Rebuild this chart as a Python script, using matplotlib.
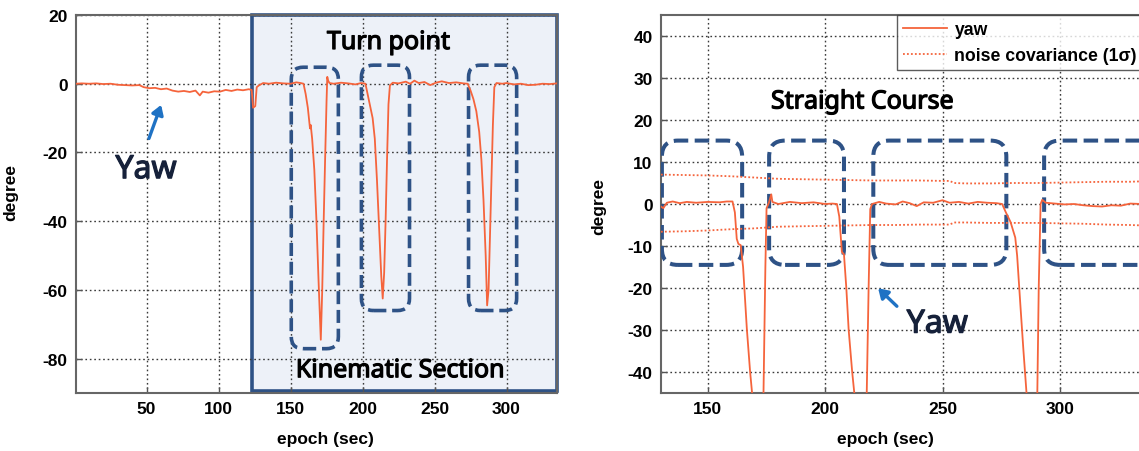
import matplotlib
matplotlib.use("Agg")
import matplotlib.pyplot as plt
import matplotlib.patheffects as pe
from matplotlib.patches import Rectangle, FancyBboxPatch
from matplotlib.font_manager import FontProperties

plt.rcParams['axes.unicode_minus'] = False

# ---- data ----
# left panel: yaw over the whole run
yaw_x = [1, 5, 10, 15, 20, 25, 30, 35, 40, 45, 48, 52, 56, 60, 64, 68, 72, 76, 80, 84,
         87, 89, 93, 97, 101, 105, 109, 113, 117, 121, 123,
         124, 125.5, 126.5, 128, 131, 135, 140, 145, 150, 154, 157, 159,
         160.5, 162, 163, 163.5, 164, 165, 166.5, 168, 169.5, 171, 172, 173, 174, 175,
         175.5, 176, 177, 180, 185, 190, 195, 199, 202,
         203.5, 205, 207, 208.5, 210, 211.5, 213, 214, 215, 216, 217, 218, 219,
         221, 225, 230, 233, 236, 239, 243, 247, 251, 255, 260, 265, 270, 273,
         275, 277, 279, 281, 282.5, 284, 285.5, 286.5, 287.5, 288.5, 289.5, 290.5, 291.5,
         293, 297, 300, 305, 310, 315, 320, 325, 330, 335]
yaw_y = [0.0, 0.1, 0.0, 0.1, -0.1, 0.0, -0.3, -0.4, -0.5, -0.4, -1.0, -1.3, -1.2, -1.6, -1.4, -2.0, -2.3, -2.1, -2.4, -2.0,
         -3.4, -2.3, -2.6, -2.2, -2.3, -1.8, -2.1, -1.7, -1.9, -1.6, -1.8,
         -7.0, -6.5, -1.0, -0.5, 0.2, 0.0, 0.3, 0.1, 0.0, 0.4, 0.2, 0.0,
         -3, -7, -11, -13, -12, -16, -25, -40, -58, -74.5, -60, -40, -22, -5,
         2, 1, 0.2, 0, 0.3, 0.1, -0.2, 0.2, 0,
         -3, -6, -10, -16, -28, -42, -56, -62.5, -55, -40, -22, -6, -0.5,
         0.3, 0.1, 0.6, 0, 0.9, 0.2, 0.5, -0.4, 0.3, 0.7, 0.2, 0.4, 0.1, 0,
         -2, -4.5, -8, -14, -22, -34, -50, -64.5, -60, -44, -28, -12, -1,
         0.2, 0, 0.2, -0.2, 0.0, -0.4, -0.3, 0, -0.1, 0.1]

# right panel: zoom on the straight courses
zoom_x = [130, 131, 132.5, 135, 138, 141, 145, 150, 155, 158, 160.5, 161.5, 162.3, 163, 164, 165, 166.6, 168,
          169, 171, 173, 173.7, 174.5, 175, 176, 177, 177.5, 180, 185, 190, 195, 200, 203, 205,
          206, 207.1, 208, 209, 210, 211.5, 212.4, 214, 216, 217.7, 218.5, 219.2, 220,
          223, 226, 230, 233, 236, 239, 242, 246, 250, 253, 257, 261, 265, 269, 273, 275.4,
          277, 279, 281, 281.8, 283.2, 284.5, 285.8, 287, 289, 290.4, 291, 291.8, 292.5,
          294, 298, 302, 306, 310, 314, 318, 322, 326, 330, 335]
zoom_y = [-0.6, -1.0, 0.3, 0.6, 0.2, 0.5, 0.3, 0.5, 0.4, 0.6, 0.6, -2, -8.3, -9.5, -9.8, -15, -29.7, -40,
          -46, -74, -55, -45, -15, -1, 0.3, 2.3, 0.5, 0, 0.5, 0.2, 0.4, 0.0, 0.1, 0,
          -3, -11.4, -12, -20, -30, -40, -45, -62, -55, -45, -20, -1.2, 0,
          0.5, 0.1, -0.1, 0.6, 0.2, -0.5, 0.4, 0.3, 0.9, 0.3, 0.5, 0.1, 0.5, 0.3, 0.2, 0,
          -2, -4.3, -8, -12.3, -24.2, -35, -45, -64, -55, -45, -20, 0, 1.0,
          0.3, 0.1, -0.1, 0, -0.3, -0.5, -0.6, -0.3, -0.4, 0.1, 0]

cov_x = [130, 140, 150, 160, 170, 180, 190, 200, 210, 220, 230, 240, 250, 253, 255, 260,
         270, 280, 290, 300, 310, 320, 330, 335]
cov_up = [7.0, 6.9, 6.8, 6.6, 6.3, 6.0, 5.9, 5.8, 5.7, 5.6, 5.6, 5.6, 5.5, 5.5, 5.0, 4.9,
          4.9, 5.0, 5.0, 5.1, 5.2, 5.3, 5.3, 5.4]
cov_low = [-6.6, -6.5, -6.3, -6.0, -5.8, -5.4, -5.3, -5.2, -5.1, -5.0, -5.0, -4.9, -4.9, -4.9, -4.4, -4.4,
           -4.5, -4.5, -4.5, -4.6, -4.7, -4.9, -5.0, -5.1]

# highlighted boxes (x0, x1, y0, y1)
turn_boxes = [(150.5, 183.2, -77.1, 4.8), (199.2, 232.6, -66.0, 5.4), (273.6, 307.0, -66.0, 5.4)]
straight_boxes = [(130.4, 164.6, -14.5, 15.1), (176.1, 208.0, -14.5, 15.1),
                  (220.5, 277.2, -14.5, 15.1), (293.3, 345.0, -14.5, 15.1)]

LINE = '#F5643C'
NAVY = '#2E5286'
ARROW = '#1F72C4'
TICKFONT = dict(family='Liberation Sans', weight='bold', size=12.5)
NOTE = ['Noto Sans', 'DejaVu Sans']


def style_axes(ax, xlim, ylim, xticks, yticks):
    ax.set_xlim(*xlim)
    ax.set_ylim(*ylim)
    ax.set_xticks(xticks)
    ax.set_yticks(yticks)
    ax.grid(True, linestyle=(0, (1.2, 2.0)), color='#3a3a3a', linewidth=1.0)
    ax.tick_params(direction='in', length=4, width=1, color='#555555', pad=6)
    for lab in ax.get_xticklabels() + ax.get_yticklabels():
        lab.set_fontproperties(FontProperties(**TICKFONT))
    for s in ax.spines.values():
        s.set_color('#666666')
        s.set_linewidth(1.5)


def dashed_box(ax, box, rad, aspect, lw=2.6):
    x0, x1, y0, y1 = box
    p = FancyBboxPatch((x0, y0), x1 - x0, y1 - y0,
                       boxstyle="round,pad=0,rounding_size=%g" % rad,
                       mutation_aspect=aspect, fill=False, edgecolor=NAVY,
                       linewidth=lw, linestyle=(0, (3.6, 1.6)), zorder=3)
    ax.add_patch(p)


def note(ax, x, y, s, size, color='black'):
    t = ax.text(x, y, s, ha='center', va='center', fontsize=size, family=NOTE, color=color)
    t.set_path_effects([pe.withStroke(linewidth=0.9, foreground=color)])
    return t


fig = plt.figure(figsize=(11.39, 4.52), dpi=100)

# ---------- left panel ----------
ax1 = fig.add_axes([0.0667, 0.1283, 0.4223, 0.8363])
ax1.add_patch(Rectangle((123, -89.3), 212, 109.3, facecolor='#EDF1F8',
                        edgecolor=NAVY, linewidth=2.6, zorder=1, clip_on=False))
ax1.plot(yaw_x, yaw_y, color=LINE, linewidth=1.3, zorder=4)
style_axes(ax1, (1, 335), (-90, 20), [50, 100, 150, 200, 250, 300], [-80, -60, -40, -20, 0, 20])
for b in turn_boxes:
    dashed_box(ax1, b, 8.3, 0.42)
note(ax1, 218, 12, 'Turn point', 18)
note(ax1, 226, -83.5, 'Kinematic Section', 18)
note(ax1, 49.7, -25, 'Yaw', 23, '#16213a')
ax1.annotate('', xy=(60.8, -5.4), xytext=(51, -16.7),
             arrowprops=dict(arrowstyle='-|>,head_length=0.55,head_width=0.35', color=ARROW, lw=2.4))
ax1.set_xlabel('epoch (sec)', fontdict=TICKFONT)
ax1.set_ylabel('degree', fontdict=TICKFONT)
ax1.xaxis.set_label_coords(0.518, -0.10)
ax1.yaxis.set_label_coords(-0.12, 0.534)

# ---------- right panel ----------
ax2 = fig.add_axes([0.5803, 0.1283, 0.4223, 0.8363])
ax2.plot(zoom_x, zoom_y, color=LINE, linewidth=1.3, label='yaw', zorder=4)
ax2.plot(cov_x, cov_up, color=LINE, linewidth=1.3, linestyle=(0, (1, 1.2)),
         label='noise covariance (1\u03c3)', zorder=4)
ax2.plot(cov_x, cov_low, color=LINE, linewidth=1.3, linestyle=(0, (1, 1.2)), zorder=4)
style_axes(ax2, (130, 335), (-45, 45), [150, 200, 250, 300], [-40, -30, -20, -10, 0, 10, 20, 30, 40])
for b in straight_boxes:
    dashed_box(ax2, b, 6.8, 0.56, lw=2.9)
note(ax2, 215.8, 24.3, 'Straight Course', 18)
note(ax2, 247.8, -28.6, 'Yaw', 23, '#16213a')
ax2.annotate('', xy=(221.7, -19.6), xytext=(231.4, -24.8),
             arrowprops=dict(arrowstyle='-|>,head_length=0.55,head_width=0.35', color=ARROW, lw=2.4))
leg = ax2.legend(loc='upper left', bbox_to_anchor=(0.491, 1.0), borderaxespad=0,
                 prop=FontProperties(family='Liberation Sans', weight='bold', size=12.7),
                 frameon=True, fancybox=False, handlelength=2.5, handletextpad=0.4,
                 labelspacing=0.5, borderpad=0.35)
leg.get_frame().set_edgecolor('#333333')
leg.get_frame().set_linewidth(1.0)
leg.set_zorder(6)
ax2.set_xlabel('epoch (sec)', fontdict=TICKFONT)
ax2.set_ylabel('degree', fontdict=TICKFONT)
ax2.xaxis.set_label_coords(0.467, -0.10)
ax2.yaxis.set_label_coords(-0.113, 0.495)

fig.savefig('out.png', dpi=100)
